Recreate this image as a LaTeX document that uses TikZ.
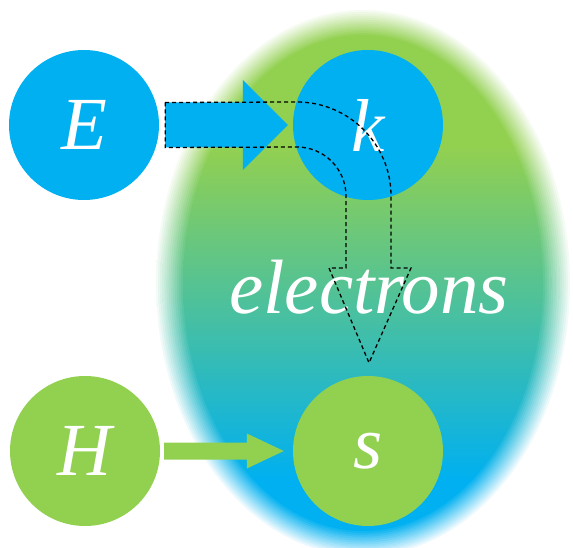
\documentclass[tikz,border=0pt]{standalone}
\usepackage{fontspec}
\setmainfont{Liberation Serif}
\usetikzlibrary{calc}
\definecolor{cblue}{HTML}{00B0F0}
\definecolor{cgreen}{HTML}{92D050}
% rectangle y=0..560 maps to 75bp..25bp
\pgfdeclareverticalshading{ellgrad}{100bp}{color(0bp)=(cblue); color(32.2bp)=(cblue); color(61.9bp)=(cgreen); color(100bp)=(cgreen)}
\begin{document}
\begin{tikzpicture}[x=1pt,y=-1pt,
  circ/.style={circle,minimum size=150pt,inner sep=0pt,text=white,font=\fontsize{75}{90}\selectfont\itshape},
  bluecirc/.style={circ,fill=cblue},
  greencirc/.style={circ,fill=cgreen},
  dashedout/.style={draw=black,line width=1.3pt,dash pattern=on 4pt off 3pt}]
\useasboundingbox (0,0) rectangle (573,548);
% blurred gradient ellipse, built from stacked semi-transparent layers
\foreach \i in {1,...,14}{
  \pgfmathsetmacro\rx{207-27*(\i-1)/13}
  \pgfmathsetmacro\ry{273-25*(\i-1)/13}
  \pgfmathsetmacro\al{1/(15-\i)}
  \begin{scope}
    \clip (363,283) ellipse [x radius=\rx pt, y radius=\ry pt];
    \shade[shading=ellgrad, fill opacity=\al] (140,0) rectangle (573,560);
  \end{scope}
}
\node[bluecirc] (E) at (84,125) {E};
\node[bluecirc] (k) at (368,125) {k};
\node[greencirc] (H) at (85,451) {H};
\node[greencirc] (s) at (368,451) {s};
\node[anchor=base,inner sep=0pt,text=white,font=\fontsize{77}{90}\selectfont\itshape] (el) at (369,313) {electrons};
% E -> k block arrow
\fill[cblue] ($(E.east)+(6,-22.5)$) -- ($(k.west)+(-50,-22.5)$) -- ($(k.west)+(-50,-45)$) -- ($(k.west)+(-5,0)$) -- ($(k.west)+(-50,45)$) -- ($(k.west)+(-50,22.5)$) -- ($(E.east)+(6,22.5)$) -- cycle;
% H -> s block arrow
\fill[cgreen] ($(H.east)+(4,-8.5)$) -- ($(s.west)+(-46,-8.5)$) -- ($(s.west)+(-46,-17.5)$) -- ($(s.west)+(-9,0)$) -- ($(s.west)+(-46,17.5)$) -- ($(s.west)+(-46,8.5)$) -- ($(H.east)+(4,8.5)$) -- cycle;
% dashed bent arrow outline
\draw[dashedout] ($(E.east)+(6,-22.5)$) -- ($(k.center)+(-71,-23)$) arc[start angle=90,end angle=0,radius=94pt] -- ($(k.center)+(23,143)$) -- ($(k.center)+(43,143)$) -- ($(s.north)+(1,-13)$) -- ($(k.center)+(-39,143)$) -- ($(k.center)+(-22,143)$) -- ($(k.center)+(-22,71)$) arc[start angle=0,end angle=90,radius=49pt] -- ($(E.east)+(6,22.5)$) -- cycle;
\end{tikzpicture}
\end{document}
